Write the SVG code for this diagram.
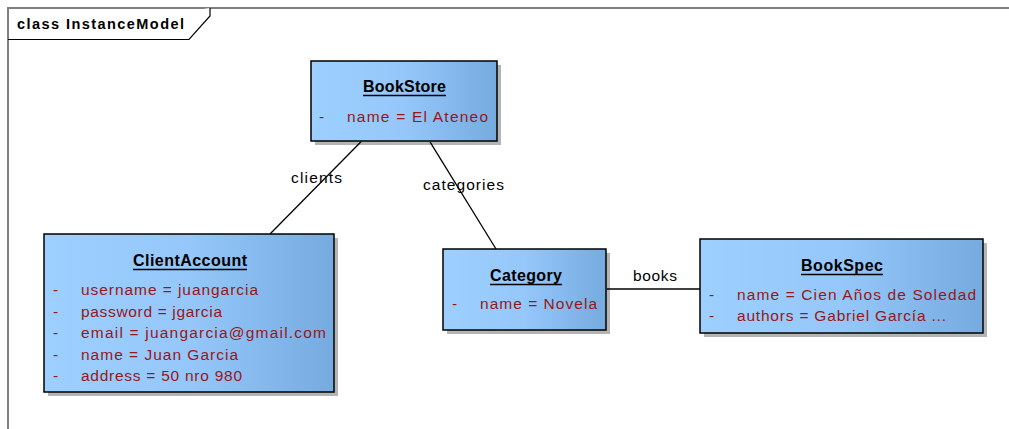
<svg xmlns="http://www.w3.org/2000/svg" width="1009" height="429" viewBox="0 0 1009 429">
<defs>
<linearGradient id="boxfill" x1="0" y1="0" x2="1" y2="0">
<stop offset="0" stop-color="#9dcfff"/>
<stop offset="0.5" stop-color="#95c7fa"/>
<stop offset="1" stop-color="#76abe0"/>
</linearGradient>
<style>
.shadow{fill:#b4b4b4}
.box{fill:url(#boxfill);stroke:#000;stroke-width:1.5}
.title{font-family:"Liberation Sans",Arial,sans-serif;font-weight:bold;font-size:16px;fill:#000;text-anchor:start}
.ul{stroke:#000;stroke-width:1.3}
.attr{font-family:"Liberation Sans",Arial,sans-serif;font-size:15.5px;fill:#961818}
.lbl{font-family:"Liberation Sans",Arial,sans-serif;font-size:15.5px;fill:#000}
.conn{stroke:#000;stroke-width:1.3;fill:none}
.frame{stroke:#808080;stroke-width:2;fill:none}
</style>
</defs>
<rect width="1009" height="429" fill="#fff"/>
<g id="frame">
<path class="frame" d="M8,429 V8 H1009"/>
<path d="M8,39.5 H189 L210,16 V8" fill="#fff" stroke="#000" stroke-width="1.2"/>
<text x="17" y="29" font-family="'Liberation Sans',Arial,sans-serif" font-weight="bold" font-size="14.5px" textLength="167" lengthAdjust="spacing">class InstanceModel</text>
</g>
<g id="BookStore">
<rect class="shadow" x="315" y="65" width="186" height="80"/>
<rect class="box" x="311" y="61" width="186" height="80"/>
<text class="title" x="363" y="92" textLength="83" lengthAdjust="spacing">BookStore</text>
<line class="ul" x1="363" y1="95.5" x2="446" y2="95.5"/>
<text class="attr" x="319" y="122">-</text>
<text class="attr" x="347" y="122" textLength="141" lengthAdjust="spacing">name = El Ateneo</text>
</g>
<g id="ClientAccount">
<rect class="shadow" x="48" y="238" width="290" height="158"/>
<rect class="box" x="44" y="234" width="290" height="158"/>
<text class="title" x="133" y="266" textLength="114" lengthAdjust="spacing">ClientAccount</text>
<line class="ul" x1="133" y1="269.5" x2="247" y2="269.5"/>
<text class="attr" x="53" y="295">-</text>
<text class="attr" x="81" y="295" textLength="177" lengthAdjust="spacing">username = juangarcia</text>
<text class="attr" x="53" y="316.5">-</text>
<text class="attr" x="81" y="316.5" textLength="141" lengthAdjust="spacing">password = jgarcia</text>
<text class="attr" x="53" y="338">-</text>
<text class="attr" x="81" y="338" textLength="245" lengthAdjust="spacing">email = juangarcia@gmail.com</text>
<text class="attr" x="53" y="360">-</text>
<text class="attr" x="81" y="360" textLength="157" lengthAdjust="spacing">name = Juan Garcia</text>
<text class="attr" x="53" y="381">-</text>
<text class="attr" x="81" y="381" textLength="161" lengthAdjust="spacing">address = 50 nro 980</text>
</g>
<g id="Category">
<rect class="shadow" x="447" y="253" width="163" height="81"/>
<rect class="box" x="443" y="249" width="163" height="81"/>
<text class="title" x="490" y="281" textLength="72" lengthAdjust="spacing">Category</text>
<line class="ul" x1="490" y1="284.5" x2="562" y2="284.5"/>
<text class="attr" x="452" y="309">-</text>
<text class="attr" x="480" y="309" textLength="117" lengthAdjust="spacing">name = Novela</text>
</g>
<g id="BookSpec">
<rect class="shadow" x="704" y="243" width="283" height="94"/>
<rect class="box" x="700" y="239" width="283" height="94"/>
<text class="title" x="801" y="271" textLength="82" lengthAdjust="spacing">BookSpec</text>
<line class="ul" x1="801" y1="274.5" x2="883" y2="274.5"/>
<text class="attr" x="709" y="300">-</text>
<text class="attr" x="737" y="300" textLength="239" lengthAdjust="spacing">name = Cien Años de Soledad</text>
<text class="attr" x="709" y="321">-</text>
<text class="attr" x="737" y="321" textLength="209" lengthAdjust="spacing">authors = Gabriel García ...</text>
</g>
<g id="connectors">
<line class="conn" x1="361" y1="141.8" x2="270" y2="234"/>
<line class="conn" x1="430" y1="141.8" x2="496" y2="249"/>
<line class="conn" x1="606.8" y1="289" x2="700" y2="289"/>
<text class="lbl" x="291" y="183" textLength="51" lengthAdjust="spacing">clients</text>
<text class="lbl" x="423" y="190" textLength="81" lengthAdjust="spacing">categories</text>
<text class="lbl" x="633" y="281" textLength="44" lengthAdjust="spacing">books</text>
</g>
</svg>
